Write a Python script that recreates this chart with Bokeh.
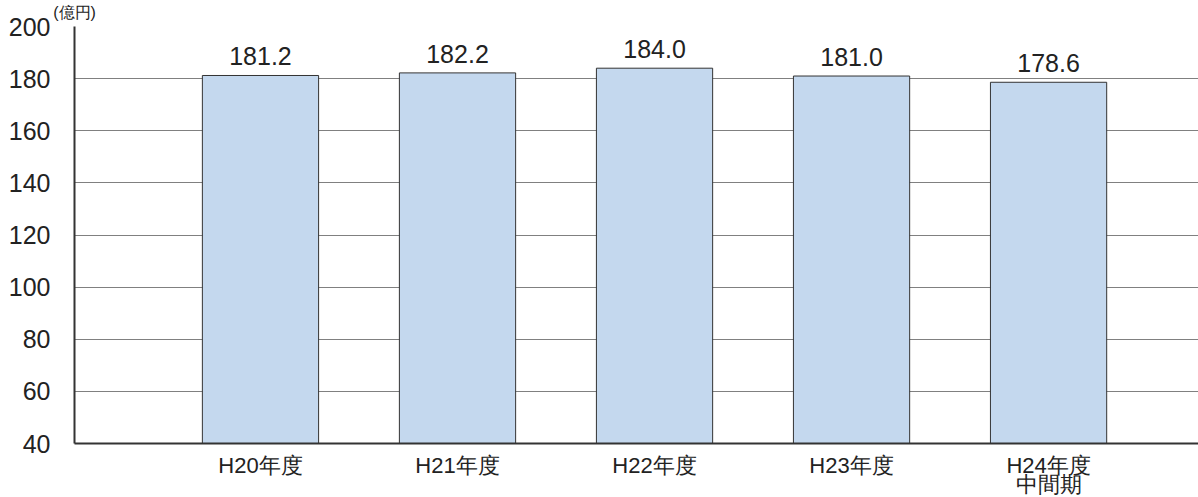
from bokeh.plotting import figure
from bokeh.models import Range1d, FixedTicker, ColumnDataSource, LabelSet, LinearAxis
from bokeh.core.properties import value
from bokeh.embed import file_html
from bokeh.resources import INLINE

categories = ["H20年度", "H21年度", "H22年度", "H23年度", "H24年度\n中間期"]
values = [181.2, 182.2, 184.0, 181.0, 178.6]
y_ticks = [40, 60, 80, 100, 120, 140, 160, 180, 200]
unit_label = "(億円)"

FONT = "Liberation Sans"

xs = list(range(len(categories)))
src = ColumnDataSource(dict(x=xs, top=values, lbl=[f"{v:.1f}" for v in values]))

p = figure(output_backend="svg", toolbar_location=None,
           frame_width=1124, frame_height=417,
           x_range=Range1d(-0.944, 4.761), y_range=Range1d(40, 200),
           min_border_left=74, min_border_right=0, min_border_top=25, min_border_bottom=0)
p.outline_line_color = None
p.background_fill_color = "white"
p.border_fill_color = "white"

p.vbar(x="x", top="top", bottom=40, width=0.59, source=src,
       fill_color="#c4d8ee", line_color="#333333", line_width=1)

labels = LabelSet(x="x", y="top", text="lbl", source=src, text_align="center",
                  text_baseline="alphabetic", y_offset=10, text_font_size="25px",
                  text_color="#222222", text_font=value(FONT))
p.add_layout(labels)

p.xaxis.ticker = FixedTicker(ticks=xs)
p.xaxis.major_label_overrides = {i: c for i, c in enumerate(categories)}
p.yaxis.ticker = FixedTicker(ticks=y_ticks)
for ax in (p.xaxis, p.yaxis):
    ax.major_tick_line_color = None
    ax.minor_tick_line_color = None
    ax.axis_line_color = "#333333"
    ax.axis_line_width = 2
    ax.major_label_text_font = FONT
    ax.major_label_text_color = "#222222"
p.yaxis.major_label_text_font_size = "25px"
p.xaxis.major_label_text_font_size = "22px"
p.xaxis.major_label_text_line_height = 0.76
p.yaxis.major_label_standoff = 18
p.xaxis.major_label_standoff = 3

p.xgrid.grid_line_color = None
p.ygrid.ticker = FixedTicker(ticks=y_ticks)
p.ygrid.grid_line_color = "#808080"
p.ygrid.grid_line_width = 1.2
p.ygrid.level = "underlay"

# unit caption above the frame's top-left corner
p.extra_x_ranges = {"unit": Range1d(0, 1)}
unit_axis = LinearAxis(x_range_name="unit", ticker=FixedTicker(ticks=[0]),
                       major_label_overrides={0: unit_label})
unit_axis.axis_line_color = None
unit_axis.major_tick_line_color = None
unit_axis.minor_tick_line_color = None
unit_axis.major_label_text_font = FONT
unit_axis.major_label_text_font_size = "16px"
unit_axis.major_label_text_color = "#222222"
unit_axis.major_label_standoff = 0
p.add_layout(unit_axis, "above")

open("out.html", "w").write(file_html(p, INLINE))
